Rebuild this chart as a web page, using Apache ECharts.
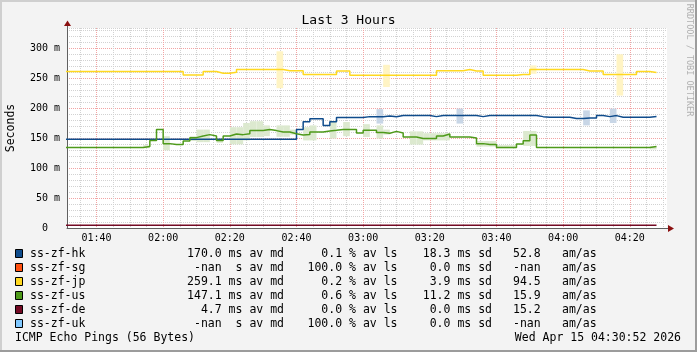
<!DOCTYPE html>
<html><head><meta charset="utf-8">
<script src="https://cdn.jsdelivr.net/npm/echarts@6/dist/echarts.min.js"></script>
<style>html,body{margin:0;padding:0;background:#f3f3f3}#c{width:697px;height:352px}</style>
</head><body><div id="c"></div>
<script>
// ---------- data (2-minute RRD buckets, bucket 0 starts 01:30) ----------
const chartTitle = 'Last 3 Hours';
const bucketStart = 90;   // minutes after midnight (01:30)
const bucketStep = 2;     // minutes per bucket
const xMin = 91.15, xMax = 271.15;   // visible window (minutes after midnight)
const xLabelValues = [100, 120, 140, 160, 180, 200, 220, 240, 260];
const yLabelValues = [0, 50, 100, 150, 200, 250, 300];

const hk = [
148,148,148,148,148,148,148,148,148,148,
148,148,148,148,148,148,148,148,148,148,
148,148,148,148,148,148,148,148,148,148,
148,148,148,148,148,164,177,182,182,171,
177,184,184,184,184,185.6,185.6,185.6,186.7,185.5,
187.3,187.3,187.3,187.3,187.3,185.6,187.3,187.3,187.3,187.3,
187.3,187.3,185.6,187.3,187.3,187.3,187.3,187.3,187.3,187.3,
187.3,185.6,184.5,184.5,184.5,184.5,182.3,182.3,183.4,183.4,
187.3,185.6,187.3,184.5,184.5,184.5,184.5,184.5,186];
const jp = [
260.7,260.7,260.7,260.7,260.7,260.7,260.7,260.7,260.7,260.7,
260.7,260.7,260.7,260.7,260.7,260.7,260.7,260.7,255,255,
255,260.7,260.7,257.8,257.8,259.5,264,264,264,264,
264,264,264,262,262,262,256,256,256,256,
256,261.7,261.7,254.5,254.5,254.5,254.5,254.5,254.5,254.5,
254.5,254.5,254.5,254.5,254.5,254.5,262,262,262,262,
264,261.7,261.7,254.5,254.5,254.5,254.5,254.5,256,256,
264,264,264,264,264,264,264,264,261.7,261.7,
261.7,255.6,255.6,255.6,255.6,255.6,260.7,260.7,259];
const us = [
134,134,134,134,134,134,134,134,134,134,
134,134,136,146,164,140.6,139,139,145,150.6,
153.4,155.6,153.4,146,153.4,156.7,155.6,157.2,162.3,162.3,
164,162.3,160,160,157.2,155,156,160,160,161.7,
162.8,164,164,164,158.4,162.8,162.8,159,158,161,
158.4,151.7,151.7,149,149,149,153.4,156.7,151.7,151.7,
151.7,150,140.6,139,139,134,134,134,140,145.6,
155,134,134,134,134,134,134,134,134,134,
134,134,134,134,134,134,134,134,136];
const de = [
4.7,4.7,4.7,4.7,4.7,4.7,4.7,4.7,4.7,4.7,
4.7,4.7,4.7,4.7,4.7,4.7,4.7,4.7,4.7,4.7,
4.7,4.7,4.7,4.7,4.7,4.7,4.7,4.7,4.7,4.7,
4.7,4.7,4.7,4.7,4.7,4.7,4.7,4.7,4.7,4.7,
4.7,4.7,4.7,4.7,4.7,4.7,4.7,4.7,4.7,4.7,
4.7,4.7,4.7,4.7,4.7,4.7,4.7,4.7,4.7,4.7,
4.7,4.7,4.7,4.7,4.7,4.7,4.7,4.7,4.7,4.7,
4.7,4.7,4.7,4.7,4.7,4.7,4.7,4.7,4.7,4.7,
4.7,4.7,4.7,4.7,4.7,4.7,4.7,4.7,4.7];
// smoke: [bucket index, low, high]
const hkSmoke = [[47,174,198],[59,174,199],[78,171,196],[82,175,199]];
const jpSmoke = [[32,233,294.5],[48,235,272],[70,257,271],[83,220.7,289.5]];
const usSmoke = [[12,133,138],[15,129.5,153],[19,145,153],[20,143,164],[21,143,164],[23,142,148],
  [25,139.5,168],[26,139.5,168],[27,146,175],[28,151.7,178],[29,151.7,178],[30,153,171],
  [32,152,171],[33,152,171],[34,155.6,164],[36,146,168],[37,146,171],[40,149,176.7],
  [42,153,176.7],[45,151.7,173],[47,149,171],[48,155.6,164],[52,139,161],[53,139,161],
  [54,146,158],[55,146,158],[56,146,158],[57,146,158],[62,135.6,145],[63,135.6,145],[64,135.6,145],
  [65,132.8,138],[66,132.8,138],[67,132.8,138],[69,136.8,161.7],[70,136.8,161.7],[88,131,136]];

const legendNames = ['ss-zf-hk','ss-zf-sg','ss-zf-jp','ss-zf-us','ss-zf-de','ss-zf-uk'];
const legendColors = ['#0f4c8c','#ff5010','#ffd820','#4e9a1a','#740a24','#80c8ff'];
const legendMedian = ['170.0 ms','-nan  s','259.1 ms','147.1 ms','4.7 ms','-nan  s'];
const legendLoss = ['0.1','100.0','0.2','0.6','0.0','100.0'];
const legendSd = ['18.3','0.0','3.9','11.2','0.0','0.0'];
const legendAmas = ['52.8','-nan','94.5','15.9','15.2','-nan'];
const footLeft = 'ICMP Echo Pings (56 Bytes)';
const footRight = 'Wed Apr 15 04:30:52 2026';
const credit = 'RRDTOOL / TOBI OETIKER';

// ---------- rendering ----------
const MONO = '"DejaVu Sans Mono", monospace';
const MAJOR = '#f2a4a4', MINOR = '#d2d2d2';
function hhmm(m){ const h = Math.floor(m/60), mm = Math.round(m - h*60); return String(h).padStart(2,'0') + ':' + String(mm).padStart(2,'0'); }
const xGridValues = []; for (let m = 95; m <= 270; m += 5) xGridValues.push(m);

function stepData(vals){
  const d = vals.map((v,i) => [bucketStart + bucketStep*i, v]);
  d.push([bucketStart + bucketStep*vals.length, vals[vals.length-1]]);
  return d;
}
function smokeSeries(name, arr, fill){
  return {
    name: name + ' smoke', type: 'custom', z: 1, silent: true, clip: true,
    data: arr.map(s => [bucketStart + bucketStep*s[0], s[1], s[2]]),
    encode: {x: 0, y: [1, 2]},
    renderItem: function(params, api){
      const x0 = api.value(0), lo = api.value(1), hi = api.value(2);
      const p0 = api.coord([x0, hi]);
      const p1 = api.coord([x0 + bucketStep, lo]);
      return {type: 'rect', shape: {x: p0[0], y: p0[1], width: p1[0]-p0[0], height: p1[1]-p0[1]},
              style: {fill: fill}};
    }
  };
}
function lineSeries(name, vals, color){
  return {name: name, type: 'line', step: 'end', z: 3, showSymbol: false, silent: true,
    data: stepData(vals), lineStyle: {color: color, width: 1.5}, itemStyle: {color: color}};
}

const graphics = [];
// frame
graphics.push({type:'rect', shape:{x:0,y:0,width:697,height:2}, style:{fill:'#cfcfcf'}, silent:true});
graphics.push({type:'rect', shape:{x:0,y:0,width:2,height:352}, style:{fill:'#cfcfcf'}, silent:true});
graphics.push({type:'rect', shape:{x:0,y:350,width:697,height:2}, style:{fill:'#9c9c9c'}, silent:true});
graphics.push({type:'rect', shape:{x:695,y:0,width:2,height:352}, style:{fill:'#9c9c9c'}, silent:true});
// axis extensions + arrows
graphics.push({type:'line', shape:{x1:67.5,y1:28,x2:67.5,y2:24}, style:{stroke:'#606060', lineWidth:1}, silent:true});
graphics.push({type:'polygon', shape:{points:[[67.5,20.5],[64,26],[71,26]]}, style:{fill:'#8b1010'}, silent:true});
graphics.push({type:'line', shape:{x1:667,y1:228.5,x2:669,y2:228.5}, style:{stroke:'#606060', lineWidth:1}, silent:true});
graphics.push({type:'polygon', shape:{points:[[674,228.5],[668,225],[668,232]]}, style:{fill:'#8b1010'}, silent:true});
// y axis title
graphics.push({type:'text', x:11, y:128, rotation:Math.PI/2, style:{text:'Seconds', font:'11.5px ' + MONO, fill:'#000', align:'center', verticalAlign:'middle'}, silent:true});
// credit
graphics.push({type:'text', x:689, y:60, rotation:-Math.PI/2, style:{text:credit, font:'8.5px ' + MONO, fill:'#b0b0b0', align:'center', verticalAlign:'middle'}, silent:true});
// legend rows
const LF = '11.5px ' + MONO;
legendNames.forEach((n, i) => {
  const y = 254 + 14*i;
  graphics.push({type:'rect', shape:{x:15.5, y:y-4.5, width:7, height:8}, style:{fill:legendColors[i], stroke:'#000', lineWidth:1}, silent:true});
  graphics.push({type:'text', x:30, y:y, style:{text:n, font:LF, fill:'#000', align:'left', verticalAlign:'middle'}, silent:true});
  graphics.push({type:'text', x:284, y:y, style:{text:legendMedian[i] + ' av md', font:LF, fill:'#000', align:'right', verticalAlign:'middle'}, silent:true});
  graphics.push({type:'text', x:397.5, y:y, style:{text:legendLoss[i] + ' % av ls', font:LF, fill:'#000', align:'right', verticalAlign:'middle'}, silent:true});
  graphics.push({type:'text', x:492, y:y, style:{text:legendSd[i] + ' ms sd', font:LF, fill:'#000', align:'right', verticalAlign:'middle'}, silent:true});
  graphics.push({type:'text', x:513, y:y, style:{text:legendAmas[i], font:LF, fill:'#000', align:'left', verticalAlign:'middle'}, silent:true});
  graphics.push({type:'text', x:562, y:y, style:{text:'am/as', font:LF, fill:'#000', align:'left', verticalAlign:'middle'}, silent:true});
});
graphics.push({type:'text', x:15, y:338.5, style:{text:footLeft, font:LF, fill:'#000', align:'left', verticalAlign:'middle'}, silent:true});
graphics.push({type:'text', x:681, y:338.5, style:{text:footRight, font:LF, fill:'#000', align:'right', verticalAlign:'middle'}, silent:true});

const chart = echarts.init(document.getElementById('c'), null, {width:697, height:352});
chart.setOption({
  backgroundColor: '#f3f3f3',
  animation: false,
  title: {text: chartTitle, left: 'center', top: 9, textStyle: {fontFamily: MONO, fontSize: 13, fontWeight: 'normal', color: '#000'}},
  grid: {left: 67, right: 30, top: 28, bottom: 124, backgroundColor: '#fff', show: true, borderWidth: 0},
  xAxis: {
    type: 'value', min: xMin, max: xMax,
    axisLine: {show: true, onZero: false, lineStyle: {color: '#606060', width: 1}},
    axisTick: {show: false, customValues: xGridValues},
    axisLabel: {customValues: xLabelValues, formatter: v => hhmm(v), fontFamily: MONO, fontSize: 10, color: '#000', margin: 5},
    splitLine: {show: true, lineStyle: {color: [MINOR, MAJOR, MINOR, MINOR], type: [1,1], width: 1}}
  },
  yAxis: {
    type: 'value', min: 0, max: 333.3, interval: 10,
    axisLine: {show: true, lineStyle: {color: '#606060', width: 1}},
    axisTick: {show: false},
    axisLabel: {customValues: yLabelValues, formatter: v => v === 0 ? '0  ' : v + ' m', fontFamily: MONO, fontSize: 10, color: '#000', margin: 7},
    splitLine: {show: true, lineStyle: {color: [MAJOR, MINOR, MINOR, MINOR, MINOR], type: [1,1], width: 1}}
  },
  graphic: graphics,
  series: [
    smokeSeries('ss-zf-hk', hkSmoke, '#c8d6e6'),
    smokeSeries('ss-zf-jp', jpSmoke, '#fff4c4'),
    smokeSeries('ss-zf-us', usSmoke, '#dce9cf'),
    lineSeries('ss-zf-hk', hk, legendColors[0]),
    lineSeries('ss-zf-jp', jp, legendColors[2]),
    lineSeries('ss-zf-us', us, legendColors[3]),
    lineSeries('ss-zf-de', de, legendColors[4])
  ]
});
</script></body></html>
